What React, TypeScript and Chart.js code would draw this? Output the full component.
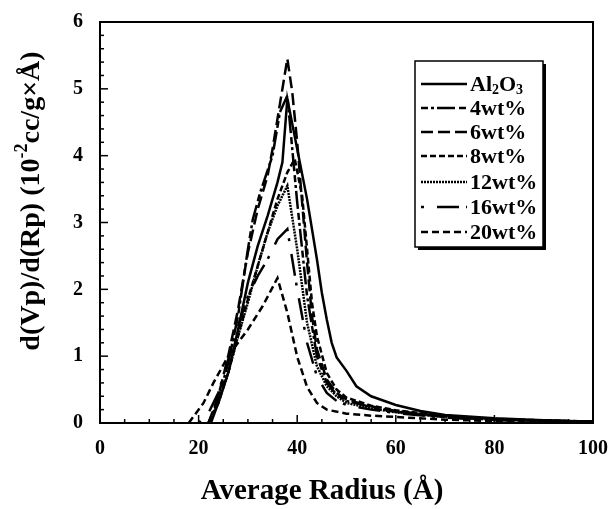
import React, { useEffect, useRef } from "react";
import { Chart, registerables } from "chart.js";

Chart.register(...registerables);

const seriesNames = ["Al2O3", "4wt%", "6wt%", "8wt%", "12wt%", "16wt%", "20wt%"];

const rAl = [22.5, 24, 26, 28, 30, 32, 34, 36, 37, 38, 40, 42, 44, 45, 46, 47, 48, 50, 52, 55, 60, 65, 70, 80, 90, 100];
const vAl = [0, 0.3, 0.75, 1.4, 2.1, 2.65, 3.1, 3.6, 3.9, 4.85, 4.1, 3.35, 2.45, 1.95, 1.55, 1.2, 0.98, 0.78, 0.55, 0.4, 0.27, 0.18, 0.12, 0.07, 0.04, 0.02];

const r4 = [22, 24, 26, 28, 30, 31, 32.5, 35, 36.5, 38, 40, 42, 44, 46, 48, 50, 55, 60, 70, 80, 100];
const v4 = [0, 0.35, 0.9, 1.6, 2.6, 3.05, 3.45, 4.0, 4.65, 4.9, 3.3, 1.9, 1.0, 0.6, 0.42, 0.33, 0.24, 0.17, 0.09, 0.05, 0.02];

const r6 = [22, 24, 26, 28, 30, 32, 34, 35, 36, 37, 38, 39, 40, 41, 42, 43, 44, 46, 48, 50, 55, 60, 70, 80, 100];
const v6 = [0, 0.4, 1.0, 1.7, 2.55, 3.2, 3.7, 4.1, 4.55, 5.0, 5.45, 4.95, 4.2, 3.3, 2.4, 1.6, 1.1, 0.65, 0.45, 0.35, 0.25, 0.18, 0.1, 0.05, 0.02];

const r8 = [22, 24, 26, 28, 30, 32, 34, 36, 38, 39.5, 41, 42, 43, 44, 46, 48, 50, 55, 60, 70, 80, 100];
const v8 = [0, 0.3, 0.75, 1.3, 1.85, 2.35, 2.85, 3.35, 3.75, 3.95, 3.4, 2.6, 1.8, 1.3, 0.75, 0.5, 0.38, 0.26, 0.19, 0.11, 0.06, 0.02];

const r12 = [22, 24, 26, 28, 30, 32, 34, 36, 38, 40, 42, 44, 46, 48, 50, 55, 60, 70, 80, 100];
const v12 = [0, 0.3, 0.75, 1.3, 1.8, 2.35, 2.85, 3.25, 3.55, 2.6, 1.5, 0.85, 0.55, 0.4, 0.3, 0.22, 0.16, 0.09, 0.05, 0.02];

const r16 = [20, 22, 24, 26, 28, 30, 32, 34, 36, 38, 40, 42, 44, 46, 48, 50, 55, 60, 70, 80, 100];
const v16 = [0, 0.15, 0.45, 0.95, 1.45, 1.9, 2.2, 2.45, 2.75, 2.9, 2.0, 1.2, 0.7, 0.45, 0.33, 0.27, 0.2, 0.15, 0.08, 0.04, 0.02];

const r20 = [18, 19, 21, 23, 26, 30, 33, 36, 38, 40, 42, 44, 46, 50, 55, 60, 70, 80, 100];
const v20 = [0, 0.1, 0.3, 0.6, 1.0, 1.4, 1.75, 2.17, 1.65, 0.99, 0.54, 0.3, 0.2, 0.14, 0.11, 0.09, 0.05, 0.03, 0.01];

const xTicks = [0, 20, 40, 60, 80, 100];
const yTicks = [0, 1, 2, 3, 4, 5, 6];

const dashes: number[][] = [
  [],
  [7, 3, 3, 3, 18, 4],
  [12, 5],
  [6, 3],
  [2, 1],
  [3, 13, 22, 7],
  [7, 4],
];

const FONT = "'Liberation Serif', 'Times New Roman', serif";

function pts(r: number[], v: number[]) {
  return r.map((x, i) => ({ x, y: v[i] }));
}

function zeroPad(s: any) {
  s.paddingTop = 0;
  s.paddingBottom = 0;
  s.paddingLeft = 0;
  s.paddingRight = 0;
}

const frameAndLegend = {
  id: "frameAndLegend",
  afterDraw(chart: any) {
    const ctx = chart.ctx;
    const { left, right, top, bottom } = chart.chartArea;
    const xs = chart.scales.x;
    const ys = chart.scales.y;
    ctx.save();
    ctx.strokeStyle = "#000";
    ctx.lineWidth = 2;
    ctx.setLineDash([]);
    ctx.strokeRect(left, top, right - left, bottom - top);
    // inward ticks
    ctx.lineWidth = 1.5;
    for (let v = 0; v <= 100; v += 5) {
      const px = xs.getPixelForValue(v);
      const len = v % 20 === 0 ? 8 : 4;
      ctx.beginPath();
      ctx.moveTo(px, bottom);
      ctx.lineTo(px, bottom - len);
      ctx.stroke();
    }
    for (let i = 0; i <= 30; i++) {
      const v = i * 0.2;
      const py = ys.getPixelForValue(v);
      const len = i % 5 === 0 ? 8 : 4;
      ctx.beginPath();
      ctx.moveTo(left, py);
      ctx.lineTo(left + len, py);
      ctx.stroke();
    }
    // x title
    ctx.fillStyle = "#000";
    ctx.font = `bold 29px ${FONT}`;
    ctx.textAlign = "center";
    ctx.textBaseline = "middle";
    ctx.fillText("Average Radius (Å)", 322, 492);

    // y title with superscript
    ctx.save();
    ctx.translate(30, 201);
    ctx.rotate(-Math.PI / 2);
    const partA = "d(Vp)/d(Rp) (10";
    const sup = "-2";
    const partB = "cc/g×Å)";
    ctx.font = `bold 28px ${FONT}`;
    const wA = ctx.measureText(partA).width;
    const wB = ctx.measureText(partB).width;
    ctx.font = `bold 18px ${FONT}`;
    const wS = ctx.measureText(sup).width;
    const total = wA + wS + wB;
    let x0 = -total / 2;
    ctx.textAlign = "left";
    ctx.textBaseline = "alphabetic";
    ctx.font = `bold 28px ${FONT}`;
    ctx.fillText(partA, x0, 9);
    x0 += wA;
    ctx.font = `bold 18px ${FONT}`;
    ctx.fillText(sup, x0, -3);
    x0 += wS;
    ctx.font = `bold 28px ${FONT}`;
    ctx.fillText(partB, x0, 9);
    ctx.restore();

    // legend box
    const bx = 415, by = 61, bw = 128, bh = 186;
    ctx.fillStyle = "#000";
    ctx.fillRect(bx + 3, by + 3, bw, bh);
    ctx.fillStyle = "#fff";
    ctx.fillRect(bx, by, bw, bh);
    ctx.lineWidth = 1.5;
    ctx.strokeRect(bx, by, bw, bh);
    const rowY = [84, 108, 132, 156, 182, 207, 232];
    ctx.textBaseline = "middle";
    ctx.textAlign = "left";
    for (let i = 0; i < seriesNames.length; i++) {
      const y = rowY[i];
      ctx.lineWidth = 2.5;
      ctx.setLineDash(dashes[i]);
      ctx.beginPath();
      ctx.moveTo(421, y);
      ctx.lineTo(467, y);
      ctx.stroke();
      ctx.setLineDash([]);
      ctx.fillStyle = "#000";
      if (i === 0) {
        let tx = 470;
        ctx.font = `bold 22px ${FONT}`;
        ctx.fillText("Al", tx, y + 1);
        tx += ctx.measureText("Al").width;
        ctx.font = `bold 14px ${FONT}`;
        ctx.fillText("2", tx, y + 6);
        tx += ctx.measureText("2").width;
        ctx.font = `bold 22px ${FONT}`;
        ctx.fillText("O", tx, y + 1);
        tx += ctx.measureText("O").width;
        ctx.font = `bold 14px ${FONT}`;
        ctx.fillText("3", tx, y + 6);
      } else {
        ctx.font = `bold 22px ${FONT}`;
        ctx.fillText(seriesNames[i], 470, y + 1);
      }
    }
    ctx.restore();
  },
};

export default function App() {
  const ref = useRef<HTMLCanvasElement | null>(null);
  useEffect(() => {
    if (!ref.current) return;
    const data = [pts(rAl, vAl), pts(r4, v4), pts(r6, v6), pts(r8, v8), pts(r12, v12), pts(r16, v16), pts(r20, v20)];
    const chart = new Chart(ref.current, {
      type: "line",
      data: {
        datasets: data.map((d, i) => ({
          label: seriesNames[i],
          data: d,
          borderColor: "#000",
          borderWidth: 2.5,
          borderDash: dashes[i],
          pointRadius: 0,
          fill: false,
          tension: 0,
        })),
      },
      options: {
        animation: false,
        responsive: false,
        devicePixelRatio: 1,
        layout: { padding: { top: 22, right: 20, left: 0, bottom: 0 } },
        plugins: { legend: { display: false }, tooltip: { enabled: false } },
        scales: {
          x: {
            type: "linear",
            min: 0,
            max: 100,
            afterFit: (s: any) => { s.height = 86; zeroPad(s); },
            afterBuildTicks: (s: any) => { s.ticks = xTicks.map((v) => ({ value: v })); },
            grid: { display: false, drawTicks: false },
            border: { display: false },
            ticks: { color: "#000", padding: 14, font: { family: FONT, size: 20, weight: "bold" } },
          },
          y: {
            type: "linear",
            min: 0,
            max: 6,
            afterFit: (s: any) => { s.width = 100; zeroPad(s); },
            afterBuildTicks: (s: any) => { s.ticks = yTicks.map((v) => ({ value: v })); },
            grid: { display: false, drawTicks: false },
            border: { display: false },
            ticks: { color: "#000", padding: 17, font: { family: FONT, size: 20, weight: "bold" } },
          },
        },
      },
      plugins: [frameAndLegend],
    } as any);
    return () => chart.destroy();
  }, []);
  return (
    <div style={{ position: "fixed", left: 0, top: 0, width: 613, height: 509, background: "#fff" }}>
      <canvas ref={ref} width={613} height={509} style={{ width: 613, height: 509 }} />
    </div>
  );
}
